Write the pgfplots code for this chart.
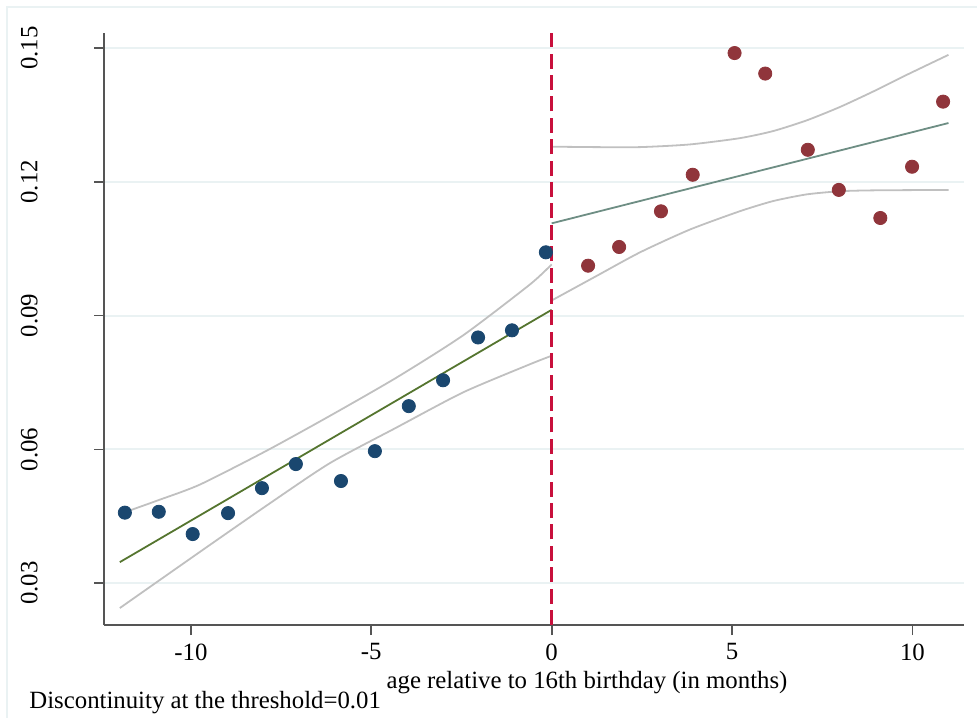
\documentclass[border=0pt]{standalone}
\usepackage{pgfplots}
\pgfplotsset{compat=1.18}
\usepackage{fontspec}
\setmainfont{Liberation Serif}

\definecolor{stnavy}{RGB}{26,71,111}
\definecolor{stmaroon}{RGB}{144,53,59}
\definecolor{stforest}{RGB}{85,117,47}
\definecolor{stteal}{RGB}{110,142,132}
\definecolor{cigray}{RGB}{192,192,192}
\definecolor{gridblue}{RGB}{234,242,243}
\definecolor{axisgray}{RGB}{85,85,85}
\definecolor{cutred}{RGB}{200,16,60}

\begin{document}
\fontsize{12.4}{14.9}\selectfont
\begin{tikzpicture}
\useasboundingbox (-52.15pt,-46pt) rectangle (436.35pt,312.5pt);
% light frame of the graph region
\draw[gridblue, line width=1pt] (-48.65pt,-50pt) -- (-48.65pt,309pt) -- (440pt,309pt);

\begin{axis}[
  name=ax,
  at={(0,0)}, anchor=south west,
  scale only axis,
  width=429.85pt, height=296pt,
  xmin=-12.40, xmax=11.43,
  ymin=0.0206, ymax=0.1534,
  axis x line*=bottom, axis y line*=left,
  axis line style={-, axisgray, line width=0.85pt},
  tick style={axisgray, line width=0.85pt},
  tick align=outside,
  major tick length=5pt,
  xtick={-10,-5,0,5,10},
  xticklabels={-10,-5,0,5,10},
  ytick={0.03,0.06,0.09,0.12,0.15},
  yticklabels={0.03,0.06,0.09,0.12,0.15},
  ymajorgrids,
  major grid style={gridblue, line width=1pt},
  tick label style={font=\fontsize{12.4}{14.9}\selectfont, black},
  yticklabel style={rotate=90, anchor=base},
  yticklabel shift=28.5pt,
  xticklabel style={anchor=north},
  clip=false,
]
% confidence bands, left of the cutoff
\addplot[cigray, line width=0.9pt, smooth, tension=0.4] coordinates {
  (-11.97,0.0455) (-10.90,0.0486) (-9.75,0.0521) (-7.90,0.0597) (-6.15,0.0675)
  (-4.30,0.0761) (-2.45,0.0856) (-0.60,0.0970) (0,0.1015)};
\addplot[cigray, line width=0.9pt, smooth, tension=0.4] coordinates {
  (-11.97,0.0244) (-9.75,0.0370) (-7.90,0.0474) (-6.15,0.0569)
  (-4.30,0.0649) (-2.45,0.0728) (-0.60,0.0791) (0,0.0810)};
% confidence bands, right of the cutoff
\addplot[cigray, line width=0.9pt, smooth, tension=0.4] coordinates {
  (0,0.1279) (1.2,0.1278) (2.45,0.1278) (3.83,0.1284) (5.21,0.1298)
  (6.14,0.1314) (7.07,0.1338) (7.99,0.1368) (8.92,0.1403)
  (9.84,0.1440) (11.0,0.1485)};
\addplot[cigray, line width=0.9pt, smooth, tension=0.4] coordinates {
  (0,0.0934) (1.2,0.0987) (2.45,0.1042) (3.83,0.1093) (5.21,0.1134)
  (6.14,0.1157) (7.07,0.1172) (7.99,0.1179) (8.92,0.1181) (11.0,0.1182)};
% fitted lines
\addplot[stforest, line width=0.9pt] coordinates {(-11.97,0.0347) (0,0.0913)};
\addplot[stteal, line width=0.9pt] coordinates {(0,0.1107) (11.0,0.1332)};
% threshold
\addplot[cutred, line width=1.2pt, dash pattern=on 7.5pt off 3.2pt] coordinates {(0,0.0206) (0,0.1534)};
% binned means
\addplot[only marks, mark=*, mark size=3.3pt, color=stnavy] coordinates {
  (-11.83,0.0458) (-10.89,0.0460) (-9.95,0.0410) (-8.97,0.0457)
  (-8.03,0.0513) (-7.09,0.0567) (-5.84,0.0529) (-4.90,0.0596)
  (-3.96,0.0697) (-3.01,0.0755) (-2.04,0.0851) (-1.10,0.0867)
  (-0.16,0.1042)};
\addplot[only marks, mark=*, mark size=3.3pt, color=stmaroon] coordinates {
  (1.01,0.1012) (1.87,0.1054) (3.03,0.1134) (3.91,0.1216)
  (5.07,0.1489) (5.92,0.1443) (7.10,0.1272) (7.96,0.1182)
  (9.11,0.1119) (9.99,0.1234) (10.85,0.1380)};
\end{axis}

\node[anchor=base, inner sep=0] at (241.35pt,-31.5pt) {age relative to 16th birthday (in months)};
\node[anchor=base west, inner sep=0] at (-37.65pt,-41.5pt) {Discontinuity at the threshold=0.01};
\end{tikzpicture}
\end{document}
